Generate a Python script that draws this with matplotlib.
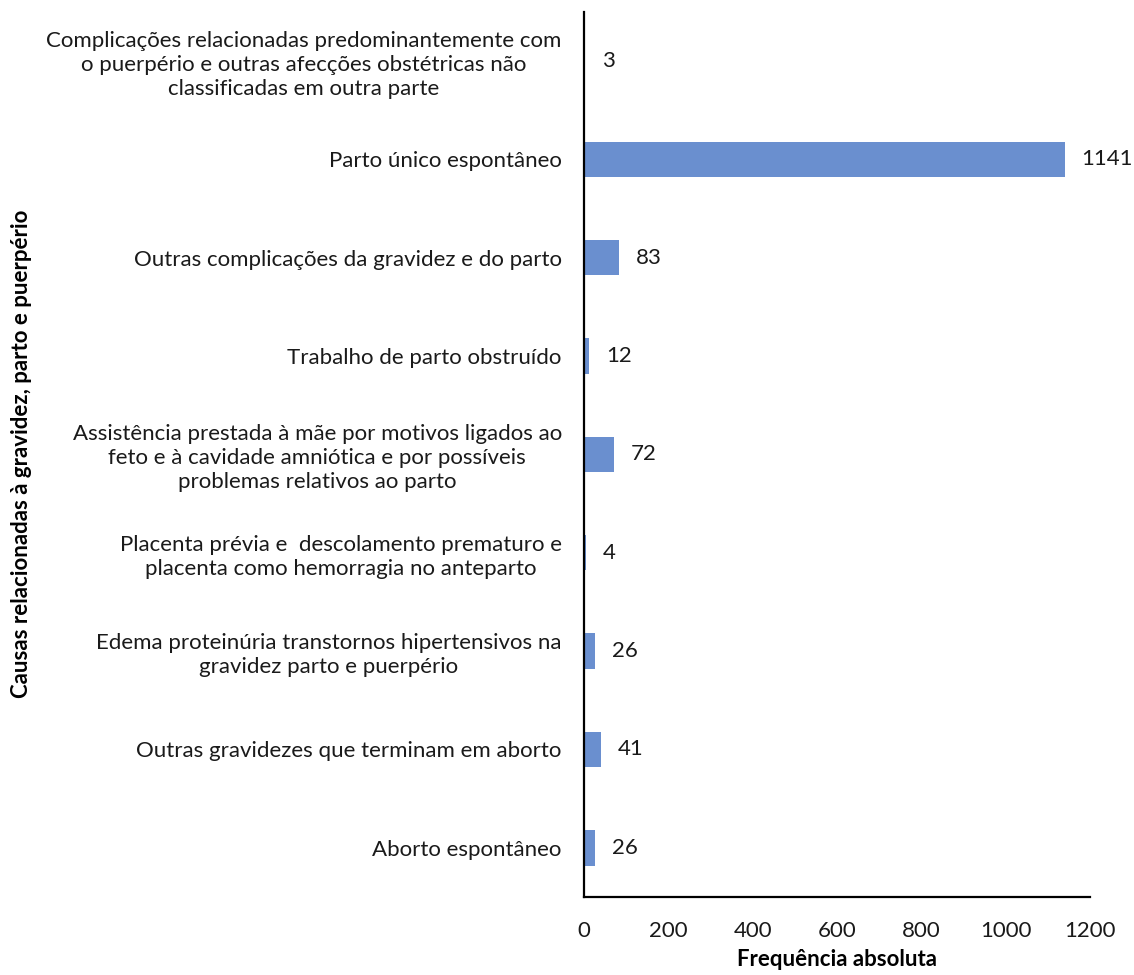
import matplotlib.pyplot as plt

plt.rcParams['font.family'] = ['Lato', 'DejaVu Sans']

# causas de internação, de baixo para cima
causas = [
    "Aborto espontâneo",
    "Outras gravidezes que terminam em aborto",
    "Edema proteinúria transtornos hipertensivos na\ngravidez parto e puerpério",
    "Placenta prévia e  descolamento prematuro e\nplacenta como hemorragia no anteparto",
    "Assistência prestada à mãe por motivos ligados ao\nfeto e à cavidade amniótica e por possíveis\nproblemas relativos ao parto",
    "Trabalho de parto obstruído",
    "Outras complicações da gravidez e do parto",
    "Parto único espontâneo",
    "Complicações relacionadas predominantemente com\no puerpério e outras afecções obstétricas não\nclassificadas em outra parte",
]
frequencias = [26, 41, 26, 4, 72, 12, 83, 1141, 3]
xticks = [0, 200, 400, 600, 800, 1000, 1200]

fig = plt.figure(figsize=(11.34, 9.75), dpi=100)
ax = fig.add_axes([0.515, 0.080, 0.446, 0.908])

pos = list(range(len(causas)))
ax.barh(pos, frequencias, height=0.36, color='#6a8fcf')

for y, v in zip(pos, frequencias):
    ax.annotate(str(v), xy=(v, y), xytext=(12, 0), textcoords='offset points',
                va='center', ha='left', fontsize=16, color='#1a1a1a')

ax.set_ylim(-0.5, len(causas) - 0.5)
ax.set_xlim(0, 1200)
ax.set_xticks(xticks)
ax.set_xticklabels([str(t) for t in xticks], fontsize=16, color='#1a1a1a')
ax.set_yticks(pos)
ax.set_yticklabels(causas, fontsize=16, color='#1a1a1a', multialignment='center',
                   linespacing=1.25)
ax.tick_params(axis='both', length=0)
ax.tick_params(axis='y', pad=16)
ax.tick_params(axis='x', pad=17)

for s in ['top', 'right']:
    ax.spines[s].set_visible(False)
ax.spines['left'].set_linewidth(1.6)
ax.spines['bottom'].set_linewidth(1.6)

ax.set_xlabel("Frequência absoluta", fontsize=16, fontweight='bold', labelpad=6)
fig.text(0.019, 0.535, "Causas relacionadas à gravidez, parto e puerpério", rotation=90,
         fontsize=16, fontweight='bold', va='center', ha='center')

fig.savefig("out.png", dpi=100)
